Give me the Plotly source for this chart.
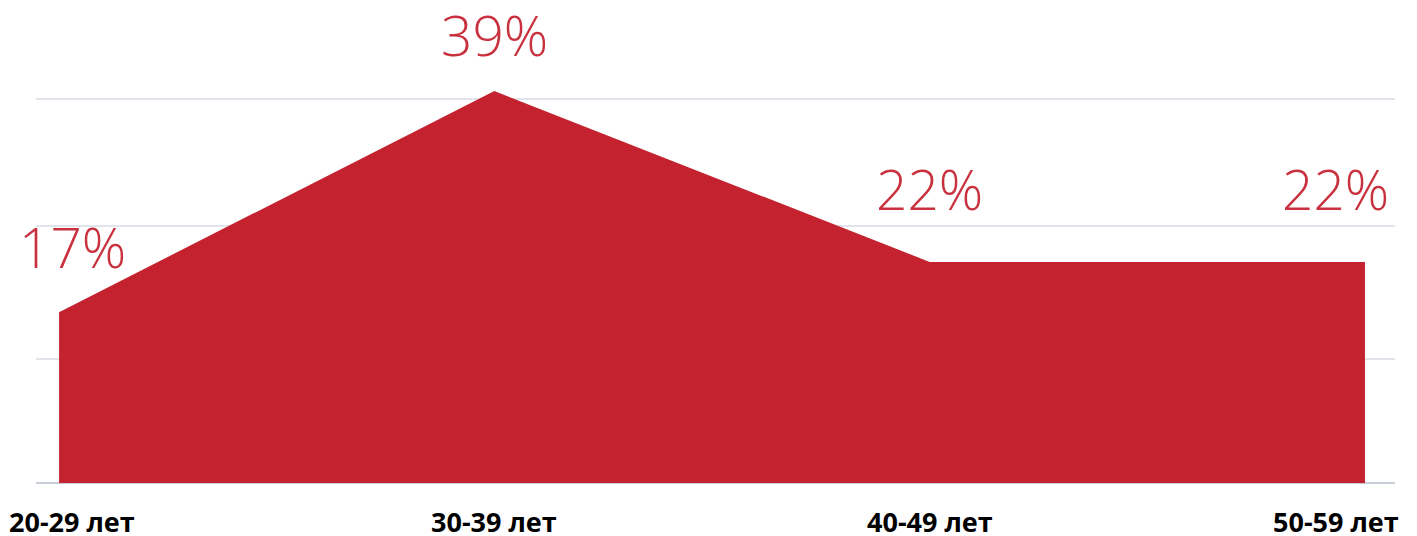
import plotly.graph_objects as go

categories = ["20-29 лет", "30-39 лет", "40-49 лет", "50-59 лет"]
values = [17, 39, 22, 22]
labels = ["17%", "39%", "22%", "22%"]

AREA = "#c5222f"
LABEL = "#c8313d"

x = list(range(len(categories)))
fig = go.Figure()
fig.add_trace(go.Scatter(x=x, y=values, mode="lines", fill="tozeroy",
                         fillcolor=AREA, line=dict(color=AREA, width=0),
                         hoverinfo="skip", showlegend=False))

# value labels (style offsets only)
label_xshift = [13, 0, 0, -29]
label_yshift = [66, 57, 73, 73]
for i, (xi, v, t) in enumerate(zip(x, values, labels)):
    fig.add_annotation(x=xi, y=v, text=t, showarrow=False, xref="x", yref="y",
                       xanchor="center", yanchor="middle",
                       xshift=label_xshift[i], yshift=label_yshift[i],
                       font=dict(family="Open Sans", size=55, color=LABEL, weight=300))

# category labels
cat_xshift = [13, 0, 0, -29]
for i, (xi, c) in enumerate(zip(x, categories)):
    fig.add_annotation(x=xi, y=0, text=c, showarrow=False, xref="x", yref="y",
                       xanchor="center", yanchor="middle",
                       xshift=cat_xshift[i], yshift=-38,
                       font=dict(family="Open Sans", size=27, color="#000000", weight=700))

fig.update_layout(
    width=1417, height=536,
    margin=dict(l=36, r=22, t=0, b=53),
    paper_bgcolor="white", plot_bgcolor="white",
    xaxis=dict(range=[-0.053, 3.069], showticklabels=False, showgrid=False,
               zeroline=False, showline=False, fixedrange=True),
    yaxis=dict(range=[0, 48.06], tickvals=[0, 12.3, 25.6, 38.2], showticklabels=False,
               showgrid=True, gridcolor="#e1e5eb", gridwidth=2,
               zeroline=True, zerolinecolor="#c9cfda", zerolinewidth=2,
               showline=False, fixedrange=True),
)

fig.write_html("out.html", config={"displayModeBar": False},
               post_script="document.body.style.margin='0';document.body.style.overflow='hidden';")
